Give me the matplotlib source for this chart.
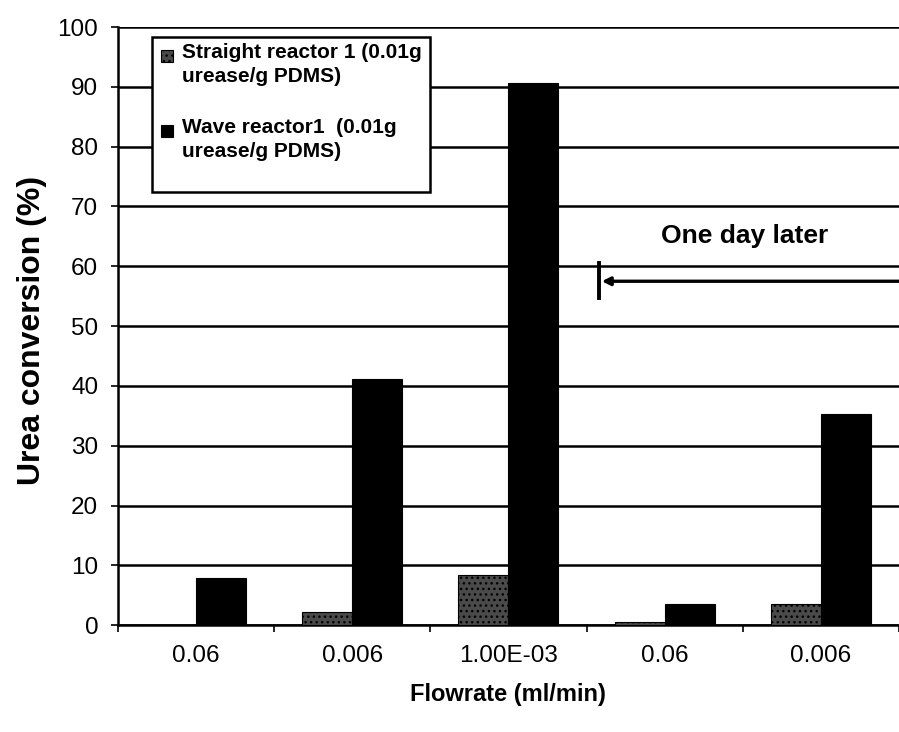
import numpy as np
import matplotlib
matplotlib.use("Agg")
import matplotlib.pyplot as plt
from matplotlib.patches import Rectangle

plt.rcParams['font.family'] = ['Liberation Sans', 'DejaVu Sans']

flowrates = ["0.06", "0.006", "1.00E-03", "0.06", "0.006"]
straight = [0.0, 2.2, 8.3, 0.5, 3.6]
wave = [7.8, 41.2, 90.6, 3.5, 35.3]
yTicks = list(range(0, 101, 10))
seriesNames = ["Straight reactor 1 (0.01g\nurease/g PDMS)",
               "Wave reactor1  (0.01g\nurease/g PDMS)"]

fig = plt.figure(figsize=(8.99, 7.32), dpi=100)
ax = fig.add_axes([0.131, 0.146, 0.869, 0.817])

x = np.arange(len(flowrates))
barWidth = 0.32
straightStyle = dict(facecolor='#4a4a4a', edgecolor='black', hatch='...', lw=0.8)
waveStyle = dict(facecolor='black', edgecolor='black', lw=0.8)
ax.bar(x - barWidth / 2, straight, barWidth, zorder=3, **straightStyle)
ax.bar(x + barWidth / 2, wave, barWidth, zorder=3, **waveStyle)

ax.set_xlim(-0.5, len(flowrates) - 0.5)
ax.set_ylim(0, 100)
ax.set_yticks(yTicks)
ax.set_xticks(x)
ax.set_xticklabels(flowrates)
ax.set_xticks(np.arange(-0.5, len(flowrates)), minor=True)
ax.tick_params(axis='x', which='major', length=0, pad=14, labelsize=17.5)
ax.tick_params(axis='x', which='minor', length=5, width=1.2, direction='out')
ax.tick_params(axis='y', length=5, width=1.2, labelsize=17.5, pad=9)

ax.yaxis.grid(True, color='black', lw=1.8, zorder=1)
for side in ['top', 'right']:
    ax.spines[side].set_visible(False)
for side in ['left', 'bottom']:
    ax.spines[side].set_linewidth(1.8)

fig.text(32 / 899, 1 - 485 / 732, "Urea conversion (%)", rotation=90,
         fontsize=23, fontweight='bold', ha='center', va='bottom')
ax.set_xlabel("Flowrate (ml/min)", fontsize=17, fontweight='bold', labelpad=12)

# marker for the measurements repeated the next day
ax.annotate("", xy=(2.58, 57.5), xytext=(4.6, 57.5),
            arrowprops=dict(arrowstyle='-|>', color='black', lw=2.4,
                            mutation_scale=12), annotation_clip=False)
ax.plot([2.577, 2.577], [54.7, 60.5], color='black', lw=2.8, zorder=4)
ax.text(3.51, 65.0, "One day later", fontsize=19, fontweight='bold',
        ha='center', va='center')

# legend box, with each key square level with the first line of its label
def px(xp, yp):
    return (xp - 118) / 781, (625 - yp) / 598

bx0, by0 = px(152, 192)
bx1, by1 = px(430, 37)
ax.add_patch(Rectangle((bx0, by0), bx1 - bx0, by1 - by0, transform=ax.transAxes,
                       facecolor='white', edgecolor='black', lw=1.8, zorder=5))
for name, style, top in zip(seriesNames, [straightStyle, waveStyle], [45, 120]):
    kx, ky = px(161, top + 17)
    kw = 12 / 781
    kh = 12 / 598
    ax.add_patch(Rectangle((kx, ky), kw, kh, transform=ax.transAxes,
                           zorder=6, **style))
    tx, ty = px(182, top - 2)
    ax.text(tx, ty, name, transform=ax.transAxes, fontsize=15,
            fontweight='bold', ha='left', va='top', linespacing=1.3, zorder=6)

plt.savefig("out.png", dpi=100)
plt.close()
